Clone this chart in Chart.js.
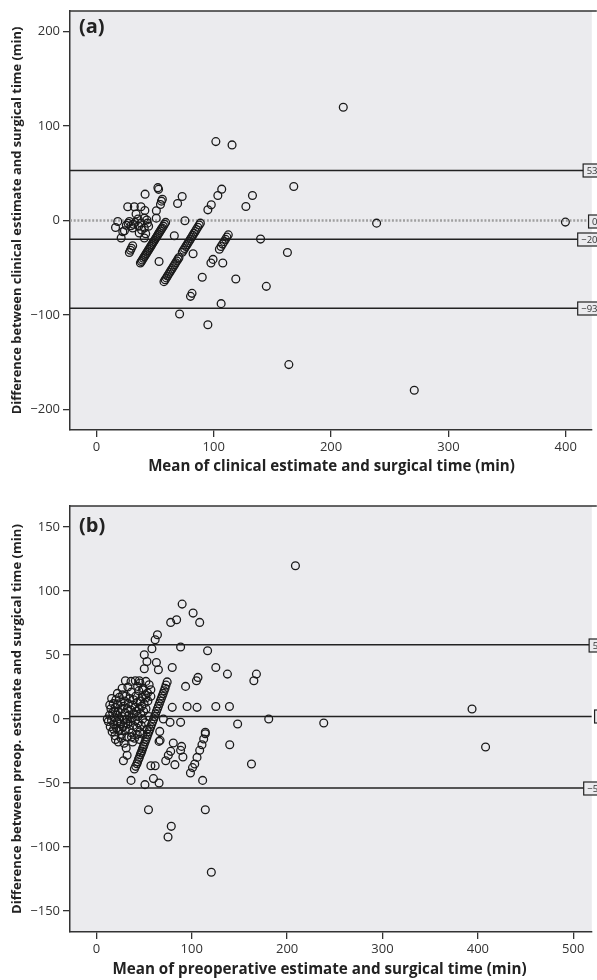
<!DOCTYPE html>
<html>
<head>
<meta charset="utf-8">
<script src="https://cdn.jsdelivr.net/npm/chart.js@4.4.0/dist/chart.umd.min.js"></script>
<style>
  html, body { margin: 0; padding: 0; background: #fff; overflow: hidden; }
  .panel { width: 597px; height: 490px; }
</style>
</head>
<body>
<div class="panel"><canvas id="chartA" width="597" height="490"></canvas></div>
<div class="panel"><canvas id="chartB" width="597" height="490"></canvas></div>
<script>
// (a) clinical estimate vs surgical time: mean (x) and difference (y)
const aMean = [
  210.4, 101.8, 115.6, 168.2, 133, 127.4, 238.8, 399.7, 139.9, 162.8,
  144.8, 164, 270.9, 106.3, 95, 70.9, 80.2, 81.5, 90.2, 118.8,
  97.6, 99.4, 107.7, 82.4, 53.4, 66.4, 75.4, 69.2, 73.1, 41.5,
  95, 97.9, 103.5, 106.8, 52.4, 53, 55.4, 56.2, 54.6, 51.1, 51,
  26.7, 32.3, 38, 41.3, 33.8, 18.2, 16.3, 21.1, 23.9, 28.1,
  30.9, 38, 40.8, 43.5, 40.8, 36.5, 40.8, 35.5, 25.5, 27,
  29.5, 31.5, 33, 36, 44.5, 43, 22.5, 38.5, 42,
  28.1, 29, 29.8, 30.9,
  37.5, 38.3, 39.1, 40, 40.8, 41.6, 42.4, 43.2, 44, 44.8,
  45.6, 46.4, 47.2, 48, 48.8, 49.6, 50.4, 51.2, 52, 52.8,
  53.6, 54.4, 55.2, 56, 57, 58, 59,
  57.6, 58.6, 59.6, 60.6, 61.6, 62.6, 63.6, 64.6, 65.6, 66.6,
  67.6, 68.6, 69.6, 70.4, 73.2, 74.2, 75.2, 76.2, 77.2, 78.2,
  79.2, 80.2, 81.2, 82.2, 83.2, 84.2, 85.2, 86.4, 87.6, 88.6,
  104.8, 106.2, 107.5, 108.8, 110, 111.2, 112.4
];
const aDiff = [
  120, 83.6, 80.1, 36, 26.5, 14.8, -2.8, -1.7, -19.7, -33.9,
  -69.8, -152.7, -179.9, -88.1, -110.4, -99, -80.4, -77.2, -60.1, -62,
  -45.1, -41.2, -45.1, -35.2, -43.4, -16.2, -0.3, 18, 25.4, 27.9,
  11.3, 16.6, 26.5, 33.2, 34.8, 33, 20.5, 22.5, 17, 10.3, 2.5,
  14.5, 14.5, 14.5, 10.6, 6.8, -1, -7.4, -18.6, -10.9, -1,
  -8, -2.8, -8, -2.8, -18.6, -13.3, 2.5, 1.5, -5, -3,
  -5.5, -4, -2, -6, -6, 0.5, -12, -10, -14,
  -33.9, -31.5, -29.5, -26.8,
  -45, -43.4, -41.8, -40, -38.4, -36.8, -35.2, -33.6, -32, -30.4,
  -28.8, -27.2, -25.6, -24, -22.4, -20.8, -19.2, -17.6, -16, -14.4,
  -12.8, -11.2, -9.6, -8, -6, -4, -2,
  -64.8, -62.8, -60.8, -58.8, -56.8, -54.8, -52.8, -50.8, -48.8, -46.8,
  -44.8, -42.8, -40.8, -39.2, -33.6, -31.6, -29.6, -27.6, -25.6, -23.6,
  -21.6, -19.6, -17.6, -15.6, -13.6, -11.6, -9.6, -7.2, -4.8, -2.8,
  -30.4, -27.6, -25, -22.4, -20, -17.6, -15.2
];
const aLines = [53, -20, -93];      // solid: upper limit, bias, lower limit
const aZero = [0];                  // dotted reference
const aBoxValues = [53, 0, -20, -93];
const aBoxLabels = ['53', '0', '\u221220', '\u221293'];
const aXTicks = [0, 100, 200, 300, 400];
const aYTicks = [-200, -100, 0, 100, 200];

// (b) preoperative estimate vs surgical time
const bMean = [
  208.7, 89.9, 101.4, 108.3, 77.9, 84.1, 64, 61.6, 88.3, 58.2,
  50.2, 53, 50.2, 62.9, 65, 79.5, 116.6, 125.2, 137.4, 167.8,
  165.1, 106.5, 104.9, 93.5, 30.4, 40.8, 45, 79.5, 95.1, 105.5,
  125.2, 139.5, 148.1, 180.7, 70.2, 77.2, 88.3, 114.2, 11.4, 393.9,
  238.4, 408.1, 139.8, 162.6, 36.3, 50.9, 65.7, 54.6, 78.5, 75.1,
  120.5, 111.4, 114.2, 82.3, 72.7, 75.4, 77.9, 80.6, 89.3, 88.3,
  90.7, 66.8, 59.8, 61.6, 57.1, 28.3, 32.2, 31.2, 65.7, 66.4,
  36.3, 45.7, 51.9, 55.3, 57.1, 53.6, 48.4, 43.2, 57.1, 51.9,
  98.6, 100.8, 103.1, 105.5, 108.3, 110.7, 112.5, 114.2,
  39.8, 41.2, 42.5, 43.2, 44.2, 45, 46, 46.8, 47.6, 48.4,
  49.2, 50, 51, 52, 53, 54, 55, 56, 57, 58,
  59, 60, 61, 62, 63, 64, 65, 66, 67, 68,
  69, 70, 71, 72, 73, 74.2,
  12.5, 13.8, 14.5, 15.2, 15.8, 16.5, 17, 17.6, 18.2, 18.8,
  19.4, 19.9, 20.5, 21, 21.4, 22, 22.5, 23, 23.5, 24,
  24.4, 25, 25.5, 26, 26.4, 27, 27.5, 28, 28.4, 29,
  29.5, 30, 30.4, 31, 31.5, 32, 32.5, 33, 33.5, 34,
  34.5, 35, 35.5, 36, 36.5, 37, 37.5, 38, 38.5, 39,
  39.5, 40, 40.5, 41, 41.5, 42, 42.5, 43, 43.5, 44,
  44.5, 45, 45.5, 46, 46.5, 47, 47.5, 48, 48.5, 49,
  49.5, 50, 51, 51.5, 52, 53, 54, 55, 20, 23,
  26, 29, 18, 16, 22, 27, 33, 38, 14, 19.5,
  24.8, 30.6, 36.8, 42.8, 45.2, 48.8
];
const bDiff = [
  119.8, 89.8, 82.8, 75.5, 75.5, 77.6, 65.9, 62, 56.3, 54.9,
  50.2, 45, 39.3, 44.2, 38.5, 40.3, 53.4, 40.3, 35.1, 35.1,
  29.9, 32.5, 29.9, 25.5, 29.9, 29.9, 29.9, 9.1, 9.8, 9.1,
  9.8, 9.8, -3.9, 0, 0, -2.6, -2.6, -10.4, 0, 7.8,
  -3.1, -21.9, -20.1, -35.2, -48, -51.3, -50, -70.9, -83.9, -92.2,
  -119.8, -48, -70.9, -35.7, -32.6, -28.4, -25.3, -18.8, -21.4, -24.5,
  -29.7, -16.7, -46.6, -36.5, -36.5, -32.6, -28.4, -22.7, -17.5, -9.7,
  29.4, 28.1, 29.4, 26.8, 22.9, 20.3, 22.9, 25.5, 17.7, 16.4,
  -42.2, -38, -35.2, -30, -24.5, -20.1, -15.6, -11.5,
  -39.1, -37, -35, -33.5, -31.5, -30, -28, -26.5, -25, -23.2,
  -21.6, -20, -18, -16, -14, -12, -10, -8, -6, -4,
  -2, 0, 2, 4, 6, 8, 10, 12, 14, 16,
  18, 20, 22, 24, 26.5, 29,
  -2, 3, -6, 8, -1, -10, 5, 12, -4, 1,
  -13, 9, 15, -7, 3, -2, 11, 6, -9, 17,
  0, -4, 13, 8, -12, 2, 19, -6, 10, -1,
  14, 5, -9, 18, 0, -14, 8, -4, 12, 3,
  -8, 16, -2, 7, 21, -11, 1, 11, -5, 15,
  4, -15, 9, -1, 18, 6, -7, 13, 2, -3,
  22, 8, -10, 14, 4, -5, 10, 17, 0, 24,
  6, 12, -3, 19, 8, -8, 14, 2, -16, -18,
  -15, -19, -8, 16, 20, 24, 25, -18, 11, 6,
  -8, -3, -14, -12, -16, -12
];
const bLines = [58, 2, -54];
const bBoxValues = [58, 2, -54];
const bBoxLabels = ['58', '2', '\u221254'];
const bXTicks = [0, 100, 200, 300, 400, 500];
const bYTicks = [-150, -100, -50, 0, 50, 100, 150];

const BG = '#ebebee';
const INK = '#222';

const panelPlugin = {
  id: 'panel',
  beforeDraw(chart, args, o) {
    const { ctx, chartArea: a } = chart;
    ctx.save();
    ctx.fillStyle = BG;
    ctx.fillRect(a.left, a.top, a.right - a.left, a.bottom - a.top);
    ctx.restore();
  },
  afterDatasetsDraw(chart, args, o) {
    const { ctx } = chart;
    const y = chart.scales.y;
    ctx.save();
    ctx.font = '9.5px "Open Sans"';
    o.boxValues.forEach((v, i) => {
      const txt = o.boxLabels[i];
      const w = ctx.measureText(txt).width + 8;
      const h = 13;
      const right = chart.width + o.boxRight;   // boxes run off the right edge
      const py = Math.round(y.getPixelForValue(v)) + 0.5;
      ctx.fillStyle = BG;
      ctx.fillRect(right - w, py - h / 2, w, h);
      ctx.strokeStyle = INK;
      ctx.lineWidth = 1.2;
      ctx.strokeRect(right - w, py - h / 2, w, h);
      ctx.fillStyle = '#333';
      ctx.textAlign = 'left';
      ctx.textBaseline = 'middle';
      ctx.fillText(txt, right - w + 3.5, py + 0.5);
    });
    ctx.restore();
  },
  afterDraw(chart, args, o) {
    const { ctx, chartArea: a } = chart;
    ctx.save();
    // top frame line
    ctx.strokeStyle = '#333';
    ctx.lineWidth = 1.5;
    ctx.beginPath();
    ctx.moveTo(a.left, a.top);
    ctx.lineTo(a.right + 5, a.top);
    ctx.stroke();
    // panel tag
    ctx.fillStyle = INK;
    ctx.font = 'bold 20px "Open Sans"';
    ctx.textAlign = 'left';
    ctx.textBaseline = 'alphabetic';
    ctx.fillText(o.tag, 79, o.tagY);
    // x title
    ctx.font = 'bold ' + o.xTitleSize + 'px "Open Sans"';
    ctx.textAlign = 'center';
    ctx.textBaseline = 'middle';
    ctx.fillText(o.xTitle, o.xTitleX, o.xTitleY);
    // y title
    ctx.translate(17.5, (a.top + a.bottom) / 2);
    ctx.rotate(-Math.PI / 2);
    ctx.font = 'bold ' + o.yTitleSize + 'px "Open Sans"';
    ctx.fillText(o.yTitle, 0, 0);
    ctx.restore();
  }
};

function minusFmt(v) {
  return v < 0 ? '\u2212' + Math.abs(v) : String(v);
}

function lineData(v, xr) {
  return [{ x: xr[0], y: v }, { x: xr[1], y: v }];
}

function makeChart(id, cfg) {
  const pts = cfg.mean.map((m, i) => ({ x: m, y: cfg.diff[i] }));
  const datasets = [{
    type: 'scatter',
    data: pts,
    pointStyle: 'circle',
    pointRadius: 3.9,
    pointHoverRadius: 3.9,
    pointBorderWidth: 1.3,
    pointBorderColor: '#1a1a1a',
    pointBackgroundColor: 'rgba(0,0,0,0)',
    order: 1
  }];
  cfg.lines.forEach(v => datasets.push({
    type: 'line',
    data: lineData(v, cfg.xRange),
    borderColor: INK,
    borderWidth: 1.5,
    pointRadius: 0,
    order: 2
  }));
  (cfg.dotted || []).forEach(v => datasets.push({
    type: 'line',
    data: lineData(v, cfg.xRange),
    borderColor: '#a0a0a0',
    borderWidth: 2.5,
    borderDash: [2, 1.7],
    pointRadius: 0,
    order: 3
  }));

  const tickFont = { family: 'Open Sans', size: 13 };
  return new Chart(document.getElementById(id).getContext('2d'), {
    data: { datasets },
    plugins: [panelPlugin],
    options: {
      responsive: false,
      animation: false,
      devicePixelRatio: 1,
      layout: { padding: { top: cfg.padTop, left: 0, right: 0, bottom: 0 } },
      scales: {
        x: {
          type: 'linear',
          min: cfg.xRange[0],
          max: cfg.xRange[1],
          afterBuildTicks: s => { s.ticks = cfg.xTicks.map(v => ({ value: v })); },
          ticks: { font: tickFont, color: '#333', padding: 2, maxRotation: 0, callback: minusFmt },
          grid: { drawOnChartArea: false, drawTicks: true, tickLength: 7, color: '#333', lineWidth: 1.3 },
          border: { color: '#333', width: 1.5 },
          afterFit: s => { s.height = cfg.xAxisH; }
        },
        y: {
          type: 'linear',
          min: cfg.yRange[0],
          max: cfg.yRange[1],
          afterBuildTicks: s => { s.ticks = cfg.yTicks.map(v => ({ value: v })); },
          ticks: { font: tickFont, color: '#333', padding: 3, callback: minusFmt },
          grid: { drawOnChartArea: false, drawTicks: true, tickLength: 7, color: '#333', lineWidth: 1.3 },
          border: { color: '#333', width: 1.5 },
          afterFit: s => { s.width = 70; }
        }
      },
      plugins: {
        legend: { display: false },
        tooltip: { enabled: false },
        panel: {
          tag: cfg.tag, tagY: cfg.tagY,
          xTitle: cfg.xTitle, xTitleX: cfg.xTitleX, xTitleY: cfg.xTitleY, xTitleSize: cfg.xTitleSize,
          yTitle: cfg.yTitle, yTitleSize: cfg.yTitleSize,
          boxValues: cfg.boxValues, boxLabels: cfg.boxLabels, boxRight: cfg.boxRight
        }
      }
    }
  });
}

makeChart('chartA', {
  mean: aMean, diff: aDiff, lines: aLines, dotted: aZero,
  xRange: [-22.5, 422.2], yRange: [-222, 222],
  xTicks: aXTicks, yTicks: aYTicks,
  padTop: 11, xAxisH: 60,
  tag: '(a)', tagY: 33,
  xTitle: 'Mean of clinical estimate and surgical time (min)', xTitleX: 331.5, xTitleY: 467, xTitleSize: 15.1,
  yTitle: 'Difference between clinical estimate and surgical time (min)', yTitleSize: 12.9,
  boxValues: aBoxValues, boxLabels: aBoxLabels, boxRight: 5
});

makeChart('chartB', {
  mean: bMean, diff: bDiff, lines: bLines,
  xRange: [-27.7, 519.5], yRange: [-166.5, 166.5],
  xTicks: bXTicks, yTicks: bYTicks,
  padTop: 16, xAxisH: 48,
  tag: '(b)', tagY: 41.5,
  xTitle: 'Mean of preoperative estimate and surgical time (min)', xTitleX: 319.5, xTitleY: 480, xTitleSize: 15.2,
  yTitle: 'Difference between preop. estimate and surgical time (min)', yTitleSize: 13.1,
  boxValues: bBoxValues, boxLabels: bBoxLabels, boxRight: 11
});
</script>
</body>
</html>
